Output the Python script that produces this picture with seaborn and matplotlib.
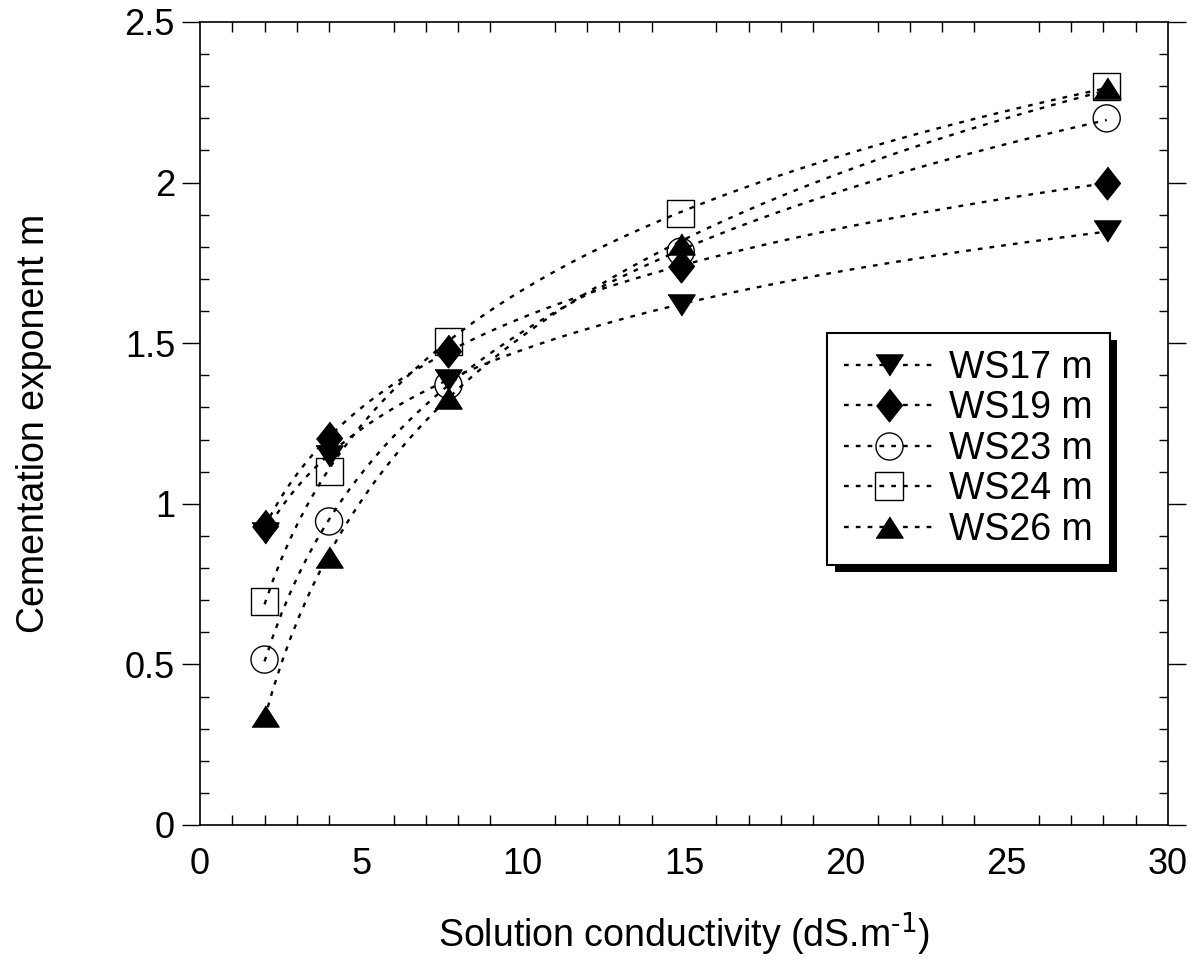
import matplotlib
matplotlib.use("Agg")
import matplotlib.pyplot as plt
import matplotlib.patheffects as pe
from matplotlib.lines import Line2D
from matplotlib.ticker import MultipleLocator
import seaborn as sns

# Data
conductivity = [2.0, 4.0, 7.7, 14.9, 28.1]
ws17 = [0.91, 1.15, 1.385, 1.62, 1.85]
ws19 = [0.93, 1.205, 1.475, 1.74, 2.00]
ws23 = [0.515, 0.945, 1.37, 1.785, 2.20]
ws24 = [0.695, 1.10, 1.505, 1.905, 2.30]
ws26 = [0.34, 0.835, 1.33, 1.81, 2.295]

series_labels = ["WS17 m", "WS19 m", "WS23 m", "WS24 m", "WS26 m"]
x_ticks = [0, 5, 10, 15, 20, 25, 30]
y_ticks = [0, 0.5, 1, 1.5, 2, 2.5]
y_ticklabels = ["0", "0.5", "1", "1.5", "2", "2.5"]

# marker shapes (wide triangles, tall diamond)
tri_down = [(-1, 0.78), (1, 0.78), (0, -0.78)]
tri_up = [(-1, -0.78), (1, -0.78), (0, 0.78)]
diamond = [(0, 1), (0.79, 0), (0, -1), (-0.79, 0)]

styles = [
    dict(marker=tri_down, ms=19.5, face="black"),
    dict(marker=diamond, ms=23.5, face="black"),
    dict(marker="o", ms=19.5, face="none"),
    dict(marker="s", ms=19.5, face="none"),
    dict(marker=tri_up, ms=19.5, face="black"),
]
dash = (0, (2, 3))

sns.set_style("ticks")
plt.rcParams["font.family"] = ["Liberation Sans", "DejaVu Sans"]
plt.rcParams["text.color"] = "black"
plt.rcParams["axes.labelcolor"] = "black"

fig = plt.figure(figsize=(11.97, 9.6), dpi=100)
ax = fig.add_axes([200 / 1197, 1 - 825 / 960, 968 / 1197, 803 / 960])

all_series = [ws17, ws19, ws23, ws24, ws26]
handles = []
for values, label, st in zip(all_series, series_labels, styles):
    sns.regplot(x=conductivity, y=values, logx=True, ci=None, ax=ax,
                color="black", marker=st["marker"],
                scatter_kws=dict(s=st["ms"] ** 2, facecolors=st["face"],
                                 edgecolors="black", linewidths=1.0, alpha=1),
                line_kws=dict(linestyle=dash, linewidth=1.7, color="black"))
    handles.append(Line2D([], [], color="black", linestyle=dash, linewidth=1.7,
                          marker=st["marker"], markersize=st["ms"],
                          markerfacecolor=st["face"], markeredgecolor="black",
                          markeredgewidth=1.0, label=label))

ax.set_xlim(0, 30)
ax.set_ylim(0, 2.5)
ax.set_xticks(x_ticks)
ax.set_yticks(y_ticks)
ax.set_yticklabels(y_ticklabels)
ax.xaxis.set_minor_locator(MultipleLocator(1))
ax.yaxis.set_minor_locator(MultipleLocator(0.1))

for side in ["top", "right", "bottom", "left"]:
    ax.spines[side].set_visible(True)
    ax.spines[side].set_color("black")
    ax.spines[side].set_linewidth(1.2)

ax.tick_params(axis="x", which="major", length=0, top=True, bottom=True,
               pad=16, labelsize=26, colors="black")
ax.tick_params(axis="x", which="minor", direction="in", length=7, width=1,
               top=True, bottom=True, colors="black")
ax.tick_params(axis="y", which="major", direction="out", length=13, width=1,
               left=True, right=True, pad=5, labelsize=26, colors="black")
ax.tick_params(axis="y", which="minor", direction="in", length=6.5, width=1,
               left=True, right=True, colors="black")

ax.set_xlabel("Solution conductivity (dS.m$^{\\text{-1}}$)", fontsize=27, color="black")
ax.set_ylabel("Cementation exponent m", fontsize=27, color="black")
ax.xaxis.set_label_coords(0.5, -0.106)
ax.yaxis.set_label_coords(-0.153, 0.5)

leg = ax.legend(handles=handles, loc="upper left", bbox_to_anchor=(0.648, 0.613),
                borderaxespad=0, fontsize=27, frameon=True, fancybox=False,
                handlelength=2.4, handletextpad=0.4, labelspacing=0.12,
                borderpad=0.45, edgecolor="black", framealpha=1,
                labelcolor="black")
frame = leg.get_frame()
frame.set_linewidth(1.5)
frame.set_path_effects([pe.SimplePatchShadow(offset=(5.5, -5.5), shadow_rgbFace="black", alpha=1),
                        pe.Normal()])

fig.savefig("out.png", dpi=100)
